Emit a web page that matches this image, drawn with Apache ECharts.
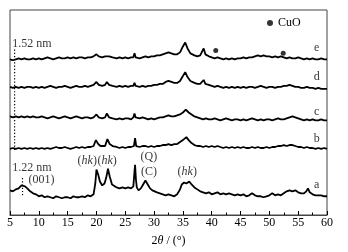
<!DOCTYPE html>
<html>
<head>
<meta charset="utf-8">
<script src="https://cdn.jsdelivr.net/npm/echarts@6/dist/echarts.min.js"></script>
<style>
  html, body { margin: 0; padding: 0; background: #fff; }
  #chart { width: 348px; height: 252px; }
</style>
</head>
<body>
<div id="chart"></div>
<script>
// XRD patterns, [2θ (°), offset intensity]
const curveA = [[5,25],[5.5,24],[6,26],[6.5,27],[7,30],[7.3,31],[7.6,29],[8,27],[8.5,24],[9,22],[9.5,21],[10,19],[10.5,20],[11,18],[11.5,19],[12,18],[12.5,17],[13,19],[13.5,18],[14,17],[14.5,18],[15,18],[15.5,17],[16,19],[16.5,18],[17,18],[17.5,19],[18,18],[18.5,20],[19,19],[19.5,21],[19.8,32],[20,46],[20.3,41],[20.6,34],[21,30],[21.4,32],[21.7,38],[22,47],[22.3,39],[22.7,31],[23,29],[23.5,28],[24,27],[24.5,28],[25,27],[25.5,28],[26,27],[26.4,29],[26.6,44],[26.7,51],[26.85,36],[27,28],[27.3,25],[27.7,27],[28,30],[28.5,35],[28.9,31],[29.3,27],[29.7,25],[30,25],[30.5,23],[31,22],[31.5,21],[32,20],[32.5,21],[33,20],[33.5,19],[34,21],[34.5,26],[34.8,31],[35.2,33],[35.6,32],[36.1,34],[36.5,31],[37,28],[37.5,26],[38,24],[38.5,23],[39,22],[39.5,23],[40,21],[40.5,22],[41,23],[41.5,21],[42,22],[42.5,21],[43,22],[43.5,21],[44,20],[44.5,21],[45,20],[45.5,21],[46,19],[46.5,20],[47,22],[47.5,20],[48,19],[48.5,19],[49,18],[49.5,19],[50,20],[50.5,22],[51,20],[51.5,21],[52,20],[52.5,22],[53,24],[53.5,25],[54,24],[54.5,25],[55,23],[55.5,22],[56,22],[56.4,24],[56.7,27],[57,23],[57.5,21],[58,20],[58.5,20],[59,20],[59.5,19],[60,19]];
const curveB = [[5,67],[5.5,68],[5.8,66],[6,67],[6.5,68],[7,67],[7.5,68],[8,67],[8.5,68],[9,67],[9.5,68],[10,67],[10.5,68],[11,67],[11.5,68],[12,67],[12.5,68],[13,69],[13.5,68],[14,68],[14.5,69],[15,68],[15.5,67],[16,68],[16.5,69],[17,68],[17.5,69],[18,68],[18.5,69],[19,69],[19.5,70],[19.9,76],[20.3,72],[20.7,70],[21,69],[21.5,70],[21.9,77],[22.3,72],[22.8,70],[23.5,69],[24,68],[24.5,69],[25,68],[25.5,69],[26,69],[26.5,70],[26.7,78],[26.9,70],[27.5,69],[28,70],[28.5,70],[29,69],[29.5,70],[30,69],[30.5,70],[31,70],[31.5,71],[32,71],[32.5,72],[33,71],[33.5,72],[34,72],[34.5,74],[35,76],[35.6,79],[36,76],[36.5,73],[37,71],[37.5,70],[38,70],[38.5,69],[39,70],[39.5,69],[40,70],[40.5,69],[41,70],[41.5,69],[42,68],[42.5,69],[43,68],[43.5,69],[44,68],[44.5,69],[45,68],[45.5,69],[46,68],[46.5,68],[47,69],[47.5,68],[48,69],[48.5,68],[49,68],[49.5,69],[50,68],[50.5,69],[51,69],[51.5,70],[52,70],[52.5,71],[53,70],[53.5,71],[54,71],[54.5,70],[55,69],[55.5,69],[56,68],[56.5,69],[57,68],[57.5,68],[58,67],[58.5,68],[59,67],[59.5,68],[60,67]];
const curveC = [[5,100],[5.5,99],[6,100],[6.5,99],[7,100],[7.5,99],[8,100],[8.5,99],[9,100],[9.5,99],[10,99],[10.5,100],[11,99],[11.5,98],[12,99],[12.5,100],[13,99],[13.5,98],[14,99],[14.5,100],[15,99],[15.5,98],[16,99],[16.5,100],[17,99],[17.5,98],[18,99],[18.5,99],[19,98],[19.5,99],[20,102],[20.4,99],[21,98],[21.5,99],[21.8,103],[22.2,99],[22.8,98],[23.5,97],[24,98],[24.5,97],[25,98],[25.5,98],[26,97],[26.4,99],[26.6,103],[26.8,99],[27.5,98],[28,99],[28.5,98],[29,97],[29.5,98],[30,97],[30.5,98],[31,99],[31.5,99],[32,100],[32.5,101],[33,100],[33.5,100],[34,101],[34.5,102],[35,104],[35.5,107],[36,104],[36.5,102],[37,100],[37.5,99],[38,98],[38.5,97],[39,98],[39.5,97],[40,97],[40.5,98],[41,97],[41.5,96],[42,97],[42.5,98],[43,97],[43.5,96],[44,97],[44.5,97],[45,96],[45.5,97],[46,96],[46.5,97],[47,98],[47.5,97],[48,96],[48.5,97],[49,96],[49.5,97],[50,97],[50.5,96],[51,97],[51.5,98],[52,97],[52.5,97],[53,98],[53.5,99],[54,100],[54.5,99],[55,98],[55.5,97],[56,96],[56.5,97],[57,96],[57.5,97],[58,96],[58.5,96],[59,97],[59.5,96],[60,96]];
const curveD = [[5,130],[5.5,129],[6,130],[6.5,129],[7,130],[7.5,129],[8,130],[8.5,130],[9,129],[9.5,130],[10,129],[10.5,130],[11,129],[11.5,130],[12,131],[12.5,130],[13,129],[13.5,130],[14,130],[14.5,131],[15,130],[15.5,129],[16,130],[16.5,131],[17,130],[17.5,130],[18,131],[18.5,130],[19,131],[19.5,132],[20,135],[20.4,132],[21,131],[21.5,132],[21.8,135],[22.2,132],[22.8,131],[23.5,130],[24,131],[24.5,130],[25,131],[25.5,130],[26,131],[26.4,131],[26.6,134],[26.8,131],[27.5,130],[28,131],[28.5,130],[29,131],[29.5,131],[30,132],[30.5,132],[31,133],[31.5,133],[32,135],[32.5,136],[33,135],[33.5,134],[34,134],[34.5,136],[35,141],[35.4,145],[35.8,140],[36.3,136],[37,134],[37.5,133],[38,133],[38.3,134],[38.6,137],[38.9,133],[39.5,132],[40,131],[40.5,130],[41,131],[41.5,130],[42,129],[42.5,130],[43,129],[43.5,130],[44,129],[44.5,130],[45,129],[45.5,130],[46,129],[46.5,130],[47,130],[47.5,129],[48,130],[48.5,131],[49,130],[49.5,129],[50,130],[50.5,130],[51,129],[51.5,130],[52,130],[52.5,131],[53,131],[53.5,132],[54,131],[54.5,130],[55,130],[55.5,129],[56,129],[56.5,130],[57,129],[57.5,129],[58,128],[58.5,129],[59,128],[59.5,128],[60,128]];
const curveE = [[5,158],[5.5,157],[6,158],[6.5,159],[7,158],[7.5,159],[8,158],[8.5,158],[9,159],[9.5,158],[10,159],[10.5,158],[11,159],[11.5,160],[12,159],[12.5,158],[13,159],[13.5,160],[14,159],[14.5,159],[15,160],[15.5,159],[16,160],[16.5,159],[17,160],[17.5,160],[18,159],[18.5,160],[19,160],[19.5,161],[20,163],[20.4,161],[21,160],[21.5,161],[21.8,163],[22.2,161],[22.8,160],[23.5,159],[24,160],[24.5,159],[25,160],[25.5,159],[26,160],[26.4,160],[26.6,164],[26.8,160],[27.5,159],[28,160],[28.5,161],[29,160],[29.5,161],[30,161],[30.5,162],[31,162],[31.5,163],[32,164],[32.5,165],[33,164],[33.5,163],[34,163],[34.5,165],[35,171],[35.4,175],[35.8,169],[36.3,164],[37,162],[37.5,161],[38,162],[38.3,164],[38.6,169],[38.9,163],[39.5,161],[40,160],[40.5,159],[41,160],[41.5,159],[42,158],[42.5,159],[43,158],[43.5,159],[44,158],[44.5,159],[45,159],[45.5,160],[46,159],[46.5,160],[47,160],[47.5,161],[48,162],[48.5,161],[49,162],[49.5,161],[50,161],[50.5,160],[51,161],[51.5,160],[52,161],[52.5,160],[53,159],[53.5,160],[54,159],[54.5,159],[55,160],[55.5,159],[56,158],[56.5,159],[57,158],[57.5,159],[58,158],[58.5,158],[59,159],[59.5,158],[60,158]];

// CuO reflections marked on curve e
const cuoPeaks = [[40.7, 167], [52.4, 164]];

// dotted d-spacing markers
const line152 = [[5.8, 66], [5.8, 170]];
const line122 = [[7.17, 20], [7.17, 38]];

// text notes: [2θ, y, text]
const notes = [
  [8.82, 174, '1.52 nm'],
  [8.82, 48, '1.22 nm'],
  [10.47, 36, '(001)'],
  [18.4, 55, '({i|hk})'],
  [21.85, 55, '({i|hk})'],
  [29.1, 59, '(Q)'],
  [29.1, 44, '(C)'],
  [35.75, 44, '({i|hk})'],
  [58.2, 170, 'e'],
  [58.2, 140, 'd'],
  [58.2, 105, 'c'],
  [58.2, 77, 'b'],
  [58.2, 31, 'a']
];

const FONT = 'Liberation Serif';
const chart = echarts.init(document.getElementById('chart'));

function curve(data) {
  return {
    type: 'line',
    data: data,
    symbol: 'none',
    lineStyle: { color: '#000', width: 1.8 },
    z: 2
  };
}

function dotted(data) {
  return {
    type: 'line',
    data: data,
    symbol: 'none',
    lineStyle: { color: '#000', width: 1.2, type: [1.2, 2] },
    z: 3
  };
}

chart.setOption({
  animation: false,
  textStyle: { fontFamily: FONT },
  grid: {
    left: 10, right: 21, top: 10, bottom: 34,
    show: true, borderColor: '#444', borderWidth: 1
  },
  legend: {
    data: ['CuO'],
    left: 262, top: 12,
    icon: 'circle',
    itemWidth: 6, itemHeight: 6,
    textStyle: { fontFamily: FONT, fontSize: 12, color: '#000' }
  },
  xAxis: {
    type: 'value',
    min: 5, max: 60, interval: 5,
    name: '2{i|θ} / (°)',
    nameLocation: 'middle',
    nameGap: 20,
    nameTextStyle: {
      fontFamily: FONT, fontSize: 12, color: '#000',
      rich: { i: { fontStyle: 'italic', fontFamily: FONT, fontSize: 12 } }
    },
    axisLine: { show: true, lineStyle: { color: '#444' } },
    axisTick: { show: true, inside: true, length: 4, lineStyle: { color: '#000' } },
    minorTick: { show: true, splitNumber: 2, length: 2.5, lineStyle: { color: '#000' } },
    axisLabel: { fontFamily: FONT, fontSize: 12, color: '#000', margin: 2 },
    splitLine: { show: false }
  },
  yAxis: {
    type: 'value',
    min: 0, max: 208,
    axisLine: { show: false },
    axisTick: { show: false },
    axisLabel: { show: false },
    splitLine: { show: false }
  },
  series: [
    curve(curveA),
    curve(curveB),
    curve(curveC),
    curve(curveD),
    curve(curveE),
    dotted(line152),
    dotted(line122),
    {
      name: 'CuO',
      type: 'scatter',
      data: cuoPeaks,
      symbol: 'circle',
      symbolSize: 5,
      itemStyle: { color: '#000' },
      z: 4
    },
    {
      type: 'scatter',
      data: notes.map(n => ({ value: [n[0], n[1]], text: n[2] })),
      symbolSize: 1,
      itemStyle: { color: 'rgba(0,0,0,0)' },
      label: {
        show: true,
        position: 'inside',
        fontFamily: FONT,
        fontSize: 12,
        color: '#000',
        formatter: p => p.data.text,
        rich: { i: { fontStyle: 'italic', fontFamily: FONT, fontSize: 12, color: '#000' } }
      },
      silent: true,
      z: 5
    }
  ]
});
</script>
</body>
</html>
